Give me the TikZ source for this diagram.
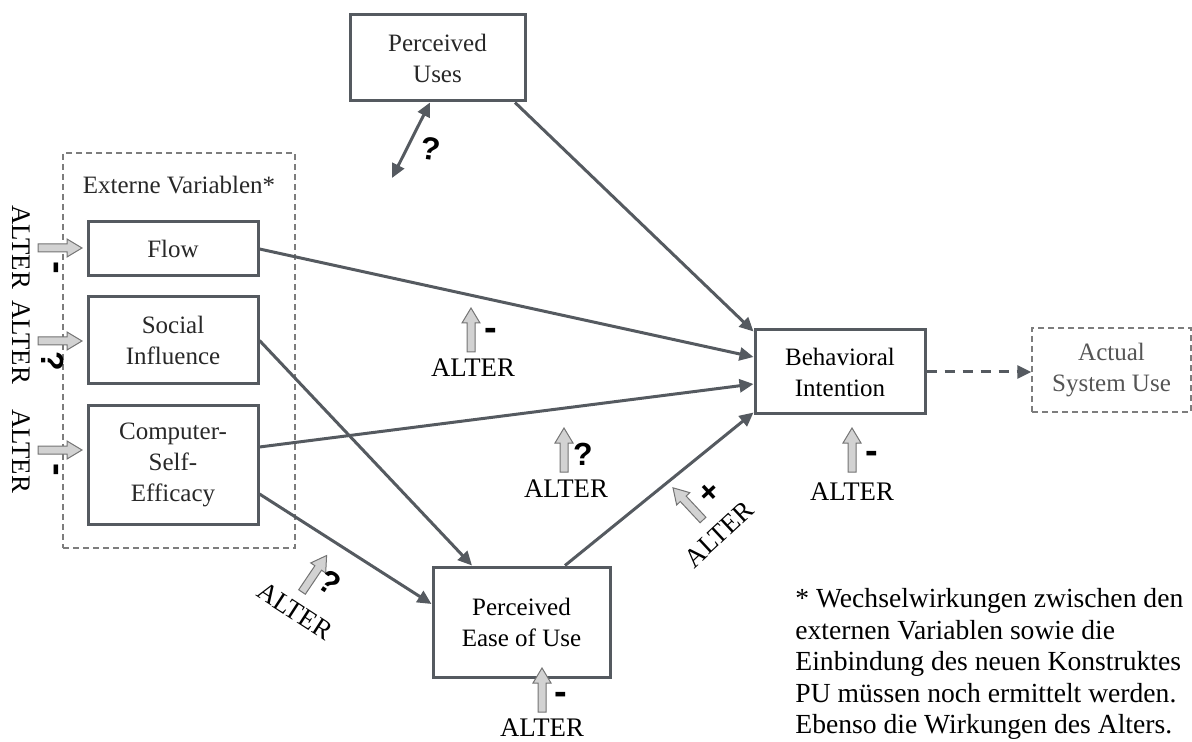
\documentclass[tikz,border=0pt]{standalone}
\usepackage{fontspec}
\setmainfont{Liberation Serif}
\newfontfamily\signfont{Liberation Sans}
\usetikzlibrary{arrows.meta}

\definecolor{edge}{RGB}{85,90,96}
\definecolor{dashgray}{RGB}{125,125,125}
\definecolor{arrowfill}{RGB}{210,210,210}
\definecolor{arrowline}{RGB}{115,115,115}
\definecolor{labelgray}{RGB}{40,40,40}
\definecolor{softgray}{RGB}{85,85,85}

\tikzset{
  box/.style={draw=edge, line width=1.5pt, fill=white, align=center, inner sep=0pt,
    text=labelgray, font=\fontsize{12.5}{15.5}\selectfont},
  dbox/.style={draw=dashgray, line width=0.7pt, dash pattern=on 3pt off 2pt,
    align=center, inner sep=0pt, font=\fontsize{12.5}{15.5}\selectfont},
  conn/.style={draw=edge, line width=1.5pt, -{Triangle[length=7pt,width=6.5pt]}},
  altertext/.style={inner sep=0pt, font=\fontsize{13.4}{15}\selectfont},
  sign/.style={inner sep=0pt, font=\signfont\bfseries\fontsize{16}{18}\selectfont},
  bar/.style={inner sep=0pt, font=\signfont\bfseries\fontsize{19}{20}\selectfont},
  note/.style={inner sep=0pt, align=left, font=\fontsize{13.8}{15.8}\selectfont},
  pics/agearrow/.style={code={
    \filldraw[fill=arrowfill, draw=arrowline, line width=0.5pt]
      (0,-4) -- (29,-4) -- (29,-9) -- (44,0) -- (29,9) -- (29,4) -- (0,4) -- cycle;
  }},
}

\begin{document}
\begin{tikzpicture}[x=0.5pt, y=-0.5pt]
\useasboundingbox (0,0) rectangle (1192,742);

% external variables frame
\node[dbox, minimum width=116pt, minimum height=197.5pt] (ext) at (179,350.5) {};
\node[inner sep=0pt, text=labelgray, font=\fontsize{12.5}{15}\selectfont] (extlabel) at (179,185) {Externe Variablen*};

% constructs
\node[box, minimum width=87.5pt, minimum height=43pt] (pu) at (437.5,58) {Perceived\\Uses};
\node[box, minimum width=85pt, minimum height=27pt] (flow) at (173,249) {Flow};
\node[box, minimum width=85pt, minimum height=43.5pt] (si) at (173,340.5) {Social\\Influence};
\node[box, minimum width=85pt, minimum height=59pt] (cse) at (173,465) {Computer-\\Self-\\Efficacy};
\node[box, text=black, minimum width=85pt, minimum height=42pt] (bi) at (840,372) {Behavioral\\Intention};
\node[dbox, text=softgray, minimum width=79.5pt, minimum height=42pt] (asu) at (1111.5,370) {Actual\\System Use};
\node[box, text=black, minimum width=88.5pt, minimum height=55pt] (peou) at (521.5,622) {Perceived\\Ease of Use};

% relations
\draw[conn] ([xshift=38.75pt]pu.south) -- ([yshift=-1.5pt]bi.north west);
\draw[conn] (flow.east) -- ([yshift=7.5pt]bi.west);
\draw[conn] ([yshift=9pt]cse.east) -- ([yshift=-6pt]bi.west);
\draw[conn] (si.east) -- ([xshift=-24.75pt]peou.north);
\draw[conn] ([yshift=-14.5pt]cse.east) -- ([yshift=9pt]peou.west);
\draw[conn] ([xshift=21.75pt]peou.north) -- ([yshift=1.5pt]bi.south west);
\draw[conn, dash pattern=on 5pt off 4pt] (bi.east) -- (bi.east -| asu.west);

% open link to the new construct
\coordinate (open) at (392,178);
\draw[draw=edge, line width=1.5pt, {Triangle[length=7pt,width=6.5pt]}-{Triangle[length=7pt,width=6.5pt]}]
  (open) -- ([xshift=-3.75pt]pu.south);
\node[sign, rotate=-8] (q0) at (431,149) {?};

% age effects on the external variables
\pic at (38,248) {agearrow};
\node[altertext, rotate=-90] (alta) at (21,247) {ALTER};
\node[bar, rotate=-90] (sga) at (53,268) {-};
\pic at (38,341) {agearrow};
\node[altertext, rotate=-90] (altb) at (21,342) {ALTER};
\node[sign, rotate=-90] (sgb) at (53,361) {?};
\pic at (38,450) {agearrow};
\node[altertext, rotate=-90] (altc) at (21,451) {ALTER};
\node[bar, rotate=-90] (sgc) at (53,470) {-};

% age effects on the paths
\pic[rotate=90] at (471,352) {agearrow};
\node[altertext] (alt1) at (473,368) {ALTER};
\node[bar] (sg1) at (491,334) {-};

\pic[rotate=90] at (564,472) {agearrow};
\node[altertext] (alt2) at (566,489) {ALTER};
\node[sign] (sg2) at (583,454) {?};

\pic[rotate=90] at (852,472) {agearrow};
\node[altertext] (alt3) at (852,492) {ALTER};
\node[bar] (sg3) at (872,457) {-};

\pic[rotate=90] at (542,712) {agearrow};
\node[altertext] (alt4) at (542,728) {ALTER};
\node[bar] (sg4) at (561,698) {-};

\pic[rotate=56] at (302,592) {agearrow};
\node[altertext, rotate=-33] (alt5) at (295,611) {ALTER};
\node[sign, rotate=-33] (sg5) at (330,582) {?};

\pic[rotate=133] at (703,520) {agearrow};
\node[altertext, rotate=43] (alt6) at (719,534) {ALTER};
\node[sign, rotate=43] (sg6) at (710,493) {+};

% footnote
\node[note, anchor=north west] (fn) at (795,588) {* Wechselwirkungen zwischen den\\externen Variablen sowie die\\Einbindung des neuen Konstruktes\\PU müssen noch ermittelt werden.\\Ebenso die Wirkungen des Alters.};
\end{tikzpicture}
\end{document}
